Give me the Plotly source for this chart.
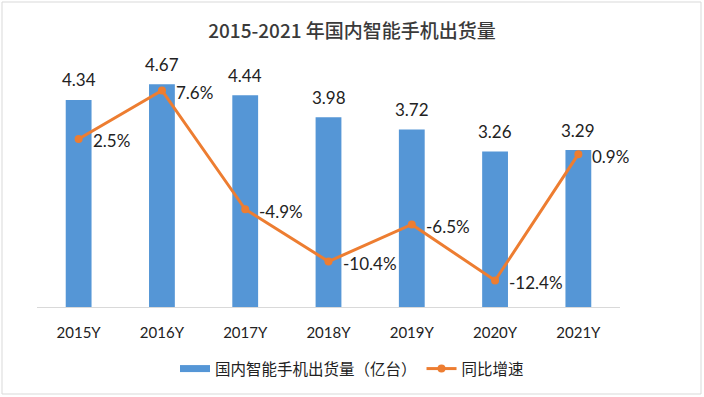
import plotly.graph_objects as go

categories = ["2015Y", "2016Y", "2017Y", "2018Y", "2019Y", "2020Y", "2021Y"]
shipments = [4.34, 4.67, 4.44, 3.98, 3.72, 3.26, 3.29]
growth = [2.5, 7.6, -4.9, -10.4, -6.5, -12.4, 0.9]
shipment_labels = ["4.34", "4.67", "4.44", "3.98", "3.72", "3.26", "3.29"]
growth_labels = ["2.5%", "7.6%", "-4.9%", "-10.4%", "-6.5%", "-12.4%", "0.9%"]

FONT = "Lato, 'Noto Sans CJK SC', sans-serif"
CJK = "'Noto Sans CJK SC', sans-serif"
BLUE = "#5596D6"
ORANGE = "#ED7D31"

fig = go.Figure()
fig.add_trace(go.Bar(
    x=categories, y=shipments, name="国内智能手机出货量（亿台）",
    marker=dict(color=BLUE, line=dict(width=0)), width=0.31,
    yaxis="y", hoverinfo="skip", showlegend=False,
))
# legend entry for the bars (flat bar swatch as in the reference)
fig.add_trace(go.Scatter(
    x=[None], y=[None], name="国内智能手机出货量（亿台）", mode="lines",
    line=dict(color=BLUE, width=7), hoverinfo="skip", showlegend=True,
))
fig.add_trace(go.Scatter(
    x=categories, y=growth, name="同比增速", mode="lines+markers",
    line=dict(color=ORANGE, width=3), marker=dict(color=ORANGE, size=8),
    yaxis="y2", hoverinfo="skip",
))

annotations = []
for c, v, t in zip(categories, shipments, shipment_labels):
    annotations.append(dict(x=c, y=v, xref="x", yref="y", text=t, showarrow=False,
                            yanchor="middle", yshift=20,
                            font=dict(family=FONT, size=17, color="#222222")))
for c, v, t in zip(categories, growth, growth_labels):
    annotations.append(dict(x=c, y=v, xref="x", yref="y2", text=t, showarrow=False,
                            xanchor="left", yanchor="middle", xshift=12, yshift=-2,
                            font=dict(family=FONT, size=17, color="#222222")))

fig.update_layout(
    width=704, height=397,
    margin=dict(l=37, r=84, t=60, b=90),
    paper_bgcolor="white", plot_bgcolor="white",
    title=dict(text="2015-2021 年国内智能手机出货量", x=0.5, xref="container",
               y=1 - 31 / 397, yref="container", yanchor="middle", xanchor="center",
               font=dict(family=CJK, size=19, color="#3a3a3a", weight=500)),
    xaxis=dict(showgrid=False, showline=True, linecolor="#d9d9d9", linewidth=1,
               ticks="", ticklabelstandoff=12, range=[-0.5, 6.5],
               tickfont=dict(family=FONT, size=15, color="#222222")),
    yaxis=dict(range=[0, 247 / 47.7], visible=False, showgrid=False, zeroline=False),
    yaxis2=dict(range=[-15.19, 10.81], overlaying="y", side="right", visible=False,
                showgrid=False, zeroline=False),
    bargap=0.69,
    legend=dict(orientation="h", xref="container", yref="container", x=0.5, y=1 - 369 / 397,
                xanchor="center", yanchor="middle",
                font=dict(family=CJK, size=15.5, color="#222222"), itemwidth=30,
                traceorder="normal"),
    showlegend=True,
    annotations=annotations,
    shapes=[dict(type="rect", xref="paper", yref="paper",
                 x0=(2 - 37) / 583, x1=(701 - 37) / 583,
                 y0=(307 - 394) / 247, y1=(307 - 2) / 247,
                 line=dict(color="#d9d9d9", width=1), layer="below")],
)

fig.write_html("out.html", config={"displayModeBar": False},
               post_script="document.body.style.margin='0';document.body.style.overflow='hidden';")
